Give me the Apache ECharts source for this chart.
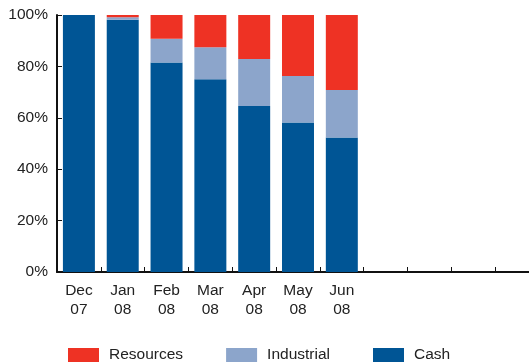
<!DOCTYPE html>
<html>
<head>
<meta charset="utf-8">
<script src="https://cdn.jsdelivr.net/npm/echarts@6/dist/echarts.min.js"></script>
<style>html,body{margin:0;padding:0;background:#fff}#c{width:529px;height:363px}</style>
</head>
<body>
<div id="c"></div>
<script>
var categories = ['Dec\n07','Jan\n08','Feb\n08','Mar\n08','Apr\n08','May\n08','Jun\n08','','','',''];
var cash = [100, 98.2, 81.5, 75, 64.6, 58.2, 52.3];
var industrial = [0, 0.9, 9.3, 12.5, 18.3, 18.1, 18.5];
var resources = [0, 0.9, 9.2, 12.5, 17.1, 23.7, 29.2];
var yTicks = [0, 20, 40, 60, 80, 100];

var font = 'Liberation Sans, Arial, sans-serif';
var txt = '#222';
var chart = echarts.init(document.getElementById('c'), null, {renderer: 'canvas'});
chart.setOption({
  animation: false,
  grid: {left: 57, top: 15, width: 482, height: 257, containLabel: false, outerBoundsMode: 'none'},
  legend: {
    data: ['Resources', 'Industrial', 'Cash'],
    left: 68, top: 347, padding: 0,
    itemWidth: 31, itemHeight: 14, itemGap: 43,
    icon: 'rect',
    textStyle: {fontFamily: font, fontSize: 15.5, color: txt, padding: [0, 0, 0, 5]}
  },
  xAxis: {
    type: 'category',
    data: categories,
    axisLine: {lineStyle: {color: '#111', width: 2}},
    axisTick: {show: true, inside: true, length: 5, lineStyle: {color: '#111', width: 1}},
    axisLabel: {fontFamily: font, fontSize: 15.5, color: txt, lineHeight: 19, margin: 9, interval: 0}
  },
  yAxis: {
    type: 'value',
    min: yTicks[0], max: yTicks[yTicks.length - 1], interval: 20,
    splitLine: {show: false},
    axisLine: {show: true, lineStyle: {color: '#111', width: 2}},
    axisTick: {show: true, inside: true, length: 5, lineStyle: {color: '#111', width: 1}},
    axisLabel: {fontFamily: font, fontSize: 15.5, color: txt, margin: 9, formatter: '{value}%'}
  },
  series: [
    {name: 'Cash', type: 'bar', stack: 's', data: cash, barCategoryGap: '27%', itemStyle: {color: '#005595'}},
    {name: 'Industrial', type: 'bar', stack: 's', data: industrial, itemStyle: {color: '#8ca5cb'}},
    {name: 'Resources', type: 'bar', stack: 's', data: resources, itemStyle: {color: '#ee3224'}}
  ]
});
</script>
</body>
</html>
